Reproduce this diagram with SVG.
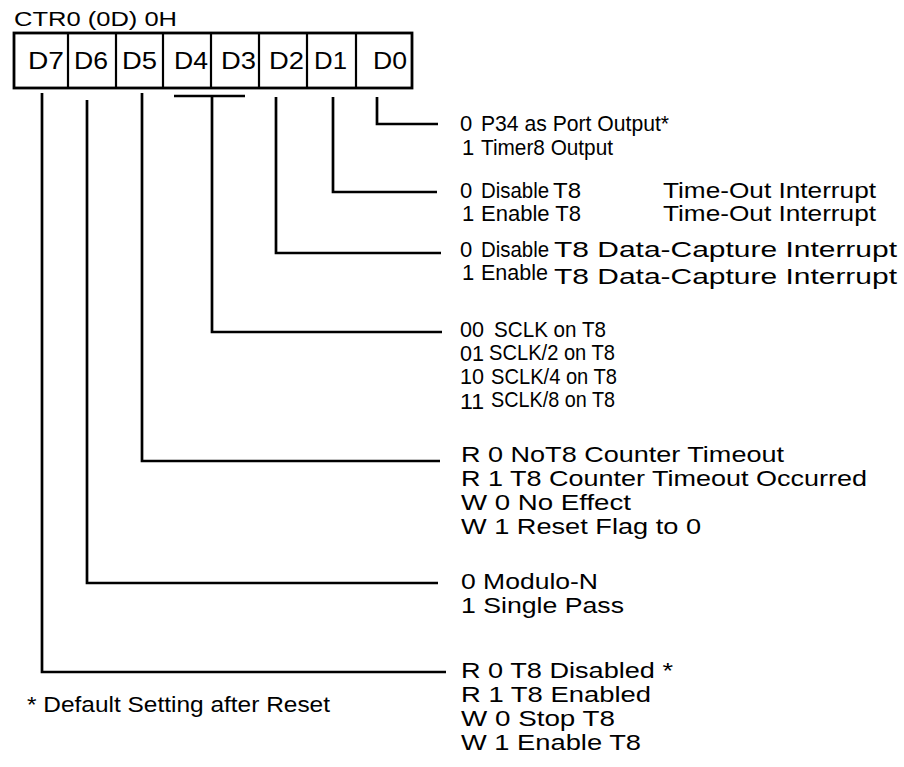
<svg xmlns="http://www.w3.org/2000/svg" width="904" height="767" viewBox="0 0 904 767">
<style>
text{font-family:"Liberation Sans",Arial,Helvetica,sans-serif;fill:#000}
.t{font-size:22px}
.c{font-size:24px}
.h{font-size:20px}
.ln{fill:none;stroke:#000;stroke-width:2.7;stroke-linecap:butt;stroke-linejoin:miter}
.bx{fill:#fff;stroke:#000;stroke-width:2.8}
.dv{stroke:#000;stroke-width:2.2}
</style>
<rect width="904" height="767" fill="#fff"/>
<g id="title"><text class="h" x="14" y="26" textLength="163" lengthAdjust="spacingAndGlyphs">CTR0 (0D) 0H</text></g>
<g id="register">
<rect class="bx" x="14" y="33" width="398" height="55"/>
<line class="dv" x1="68" y1="33" x2="68" y2="88"/>
<line class="dv" x1="116" y1="33" x2="116" y2="88"/>
<line class="dv" x1="163" y1="33" x2="163" y2="88"/>
<line class="dv" x1="211" y1="33" x2="211" y2="88"/>
<line class="dv" x1="259" y1="33" x2="259" y2="88"/>
<line class="dv" x1="307" y1="33" x2="307" y2="88"/>
<line class="dv" x1="356" y1="33" x2="356" y2="88"/>
<text class="c" x="28" y="69" textLength="36" lengthAdjust="spacingAndGlyphs">D7</text>
<text class="c" x="74" y="69" textLength="34" lengthAdjust="spacingAndGlyphs">D6</text>
<text class="c" x="122" y="69" textLength="35" lengthAdjust="spacingAndGlyphs">D5</text>
<text class="c" x="174" y="69" textLength="34" lengthAdjust="spacingAndGlyphs">D4</text>
<text class="c" x="221" y="69" textLength="35" lengthAdjust="spacingAndGlyphs">D3</text>
<text class="c" x="269" y="69" textLength="35" lengthAdjust="spacingAndGlyphs">D2</text>
<text class="c" x="314" y="69" textLength="33" lengthAdjust="spacingAndGlyphs">D1</text>
<text class="c" x="373" y="69" textLength="34" lengthAdjust="spacingAndGlyphs">D0</text>
</g>
<g id="connectors">
<path class="ln" d="M377,97 V124 H438"/>
<path class="ln" d="M333,97 V192 H437"/>
<path class="ln" d="M276,97 V253 H441"/>
<path class="ln" d="M174,96 H245 M212,96 V332 H442"/>
<path class="ln" d="M142,93 V461 H440"/>
<path class="ln" d="M87,100 V583 H438"/>
<path class="ln" d="M42,93 V672 H446"/>
</g>
<g id="d0">
<text class="t" x="460" y="131">0</text>
<text class="t" x="481" y="131" textLength="188" lengthAdjust="spacingAndGlyphs">P34 as Port Output*</text>
<text class="t" x="462" y="155">1</text>
<text class="t" x="481" y="155" textLength="132" lengthAdjust="spacingAndGlyphs">Timer8 Output</text>
</g>
<g id="d1">
<text class="t" x="460" y="198">0</text>
<text class="t" x="481" y="198" textLength="68" lengthAdjust="spacingAndGlyphs">Disable</text>
<text class="t" x="553" y="198" textLength="28" lengthAdjust="spacingAndGlyphs">T8</text>
<text class="t" x="663" y="198" textLength="213" lengthAdjust="spacingAndGlyphs">Time-Out Interrupt</text>
<text class="t" x="462" y="221">1</text>
<text class="t" x="481" y="221" textLength="100" lengthAdjust="spacingAndGlyphs">Enable T8</text>
<text class="t" x="663" y="221" textLength="213" lengthAdjust="spacingAndGlyphs">Time-Out Interrupt</text>
</g>
<g id="d2">
<text class="t" x="460" y="257">0</text>
<text class="t" x="481" y="257" textLength="68" lengthAdjust="spacingAndGlyphs">Disable</text>
<text class="t" x="554" y="257" textLength="343" lengthAdjust="spacingAndGlyphs">T8 Data-Capture Interrupt</text>
<text class="t" x="462" y="280">1</text>
<text class="t" x="481" y="280" textLength="67" lengthAdjust="spacingAndGlyphs">Enable</text>
<text class="t" x="554" y="284" textLength="343" lengthAdjust="spacingAndGlyphs">T8 Data-Capture Interrupt</text>
</g>
<g id="d43">
<text class="t" x="460" y="337" textLength="24" lengthAdjust="spacingAndGlyphs">00</text>
<text class="t" x="494" y="337" textLength="112" lengthAdjust="spacingAndGlyphs">SCLK on T8</text>
<text class="t" x="460" y="361" textLength="24" lengthAdjust="spacingAndGlyphs">01</text>
<text class="t" x="489" y="360" textLength="126" lengthAdjust="spacingAndGlyphs">SCLK/2 on T8</text>
<text class="t" x="460" y="384" textLength="24" lengthAdjust="spacingAndGlyphs">10</text>
<text class="t" x="491" y="384" textLength="126" lengthAdjust="spacingAndGlyphs">SCLK/4 on T8</text>
<text class="t" x="460" y="409" textLength="24" lengthAdjust="spacingAndGlyphs">11</text>
<text class="t" x="491" y="407" textLength="124" lengthAdjust="spacingAndGlyphs">SCLK/8 on T8</text>
</g>
<g id="d5">
<text class="t" x="461" y="462" textLength="323" lengthAdjust="spacingAndGlyphs">R 0 NoT8 Counter Timeout</text>
<text class="t" x="461" y="486" textLength="406" lengthAdjust="spacingAndGlyphs">R 1 T8 Counter Timeout Occurred</text>
<text class="t" x="461" y="510" textLength="170" lengthAdjust="spacingAndGlyphs">W 0 No Effect</text>
<text class="t" x="461" y="534" textLength="240" lengthAdjust="spacingAndGlyphs">W 1 Reset Flag to 0</text>
</g>
<g id="d6">
<text class="t" x="461" y="589" textLength="137" lengthAdjust="spacingAndGlyphs">0 Modulo-N</text>
<text class="t" x="461" y="613" textLength="163" lengthAdjust="spacingAndGlyphs">1 Single Pass</text>
</g>
<g id="d7">
<text class="t" x="461" y="678" textLength="212" lengthAdjust="spacingAndGlyphs">R 0 T8 Disabled *</text>
<text class="t" x="461" y="702" textLength="190" lengthAdjust="spacingAndGlyphs">R 1 T8 Enabled</text>
<text class="t" x="461" y="726" textLength="154" lengthAdjust="spacingAndGlyphs">W 0 Stop T8</text>
<text class="t" x="461" y="750" textLength="180" lengthAdjust="spacingAndGlyphs">W 1 Enable T8</text>
</g>
<g id="footnote"><text class="t" x="27" y="712" textLength="303" lengthAdjust="spacingAndGlyphs">* Default Setting after Reset</text></g>
</svg>
